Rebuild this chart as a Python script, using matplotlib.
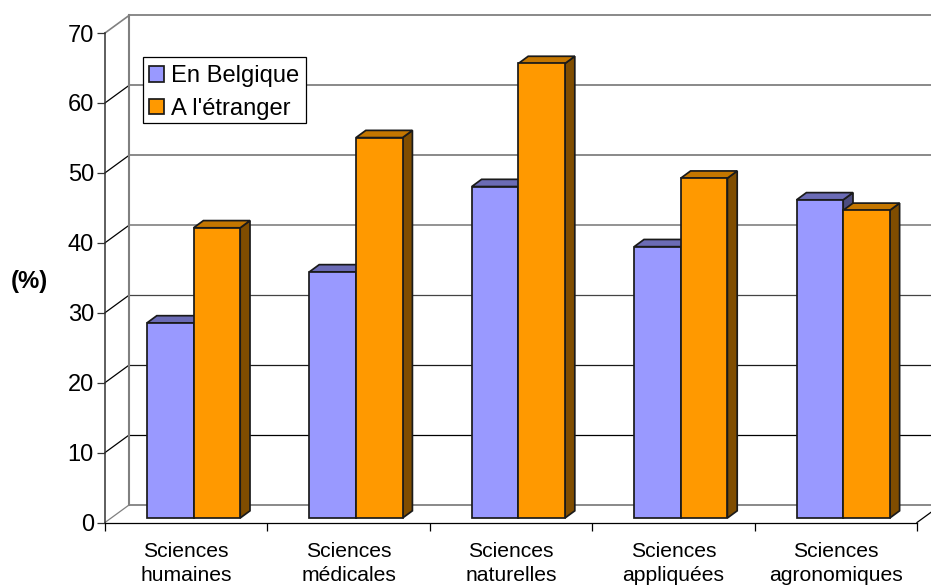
#!/usr/bin/env python3
# 3D look bar chart (Excel style), faces drawn from the values
import numpy as np
import matplotlib
matplotlib.use("Agg")
import matplotlib.pyplot as plt
from matplotlib.patches import Polygon, Patch, Rectangle

plt.rcParams['font.family'] = ['Liberation Sans', 'DejaVu Sans']

# -----------------------------------------------------------
# DATA
categories = ["Sciences\nhumaines", "Sciences\nmédicales", "Sciences\nnaturelles",
              "Sciences\nappliquées", "Sciences\nagronomiques"]
belgique = [27.9, 35.2, 47.4, 38.8, 45.5]
etranger = [41.5, 54.4, 65.0, 48.6, 44.0]
series_names = ["En Belgique", "A l'étranger"]
y_ticks = [0, 10, 20, 30, 40, 50, 60, 70]

# -----------------------------------------------------------
# GEOMETRY (pixels of the 931x585 picture)
W, H = 931, 585
x0_px, x1_px = 105, 917
y0_px, y70_px = 522.5, 33
px_x = (x1_px - x0_px) / len(categories)   # pixels per category
px_y = (y0_px - y70_px) / 70               # pixels per percent

wall_dx = 24 / px_x
wall_dy = 17.5 / px_y
bar_dx = 9.8 / px_x
bar_dy = 7.2 / px_y
bar_base = 4.5 / px_y
bar_w = 46.6 / px_x
bar_off = 42 / px_x

# colours: front, top, side
blue = ('#9999FF', '#6B6BB5', '#4D4D80')
orange = ('#FF9900', '#C47600', '#804D00')
GREY = '#808080'
DARK = '#333333'
LW = 0.9
BAR_LW = 1.25

fig = plt.figure(figsize=(W / 100, H / 100), dpi=100)
ax = fig.add_axes([x0_px / W, 1 - y0_px / H, (x1_px - x0_px) / W, (y0_px - y70_px) / H])
ax.set_xlim(0, len(categories))
ax.set_ylim(0, 70)
ax.patch.set_alpha(0)

# -------- walls and gridlines -----------------------------------
grid_style = {0: (GREY, 1.3), 10: ('black', 0.9), 20: ('#1a1a1a', 0.9), 30: ('#444444', 0.9),
              40: (GREY, 1.2), 50: (GREY, 1.3), 60: (GREY, 1.3), 70: (GREY, 1.3)}
x_end = len(categories) + wall_dx
for v in y_ticks:
    c, w = grid_style[v]
    ax.plot([wall_dx, x_end], [v + wall_dy, v + wall_dy], color=c, lw=w, clip_on=False, zorder=1)
    if v == 70:
        ax.plot([0, wall_dx], [v, v + wall_dy], color=GREY, lw=1.2, clip_on=False, zorder=1)
    elif v > 0:
        ax.plot([0, wall_dx], [v, v + wall_dy], color='black', lw=LW, clip_on=False, zorder=1)
ax.plot([wall_dx, wall_dx], [wall_dy, 70 + wall_dy], color=GREY, lw=1.5, clip_on=False, zorder=1)
ax.plot([0, wall_dx], [0, wall_dy], color=GREY, lw=LW, clip_on=False, zorder=1)
ax.plot([len(categories), x_end], [0, wall_dy], color='black', lw=LW, clip_on=False, zorder=1)

# -------- bars --------------------------------------------------
z = 3
for i in range(len(categories)):
    for j, (vals, cols) in enumerate([(belgique, blue), (etranger, orange)]):
        left = i + bar_off + j * bar_w
        right = left + bar_w
        top = bar_base + vals[i]
        ax.add_patch(Polygon([(right, bar_base), (right + bar_dx, bar_base + bar_dy),
                              (right + bar_dx, top + bar_dy), (right, top)],
                             fc=cols[2], ec='#1a1a1a', lw=BAR_LW, zorder=z, clip_on=False))
        ax.add_patch(Polygon([(left, top), (right, top), (right + bar_dx, top + bar_dy),
                              (left + bar_dx, top + bar_dy)],
                             fc=cols[1], ec='#1a1a1a', lw=BAR_LW, zorder=z, clip_on=False))
        ax.bar(left, vals[i], bar_w, bottom=bar_base, align='edge', color=cols[0],
               edgecolor='#1a1a1a', linewidth=BAR_LW, zorder=z, clip_on=False)
        z += 1

# -------- axes --------------------------------------------------
for s in ('top', 'right'):
    ax.spines[s].set_visible(False)
ax.spines['left'].set_linewidth(1.1)
ax.spines['left'].set_color(DARK)
ax.spines['bottom'].set_linewidth(LW)
ax.spines['left'].set_zorder(2)
ax.spines['bottom'].set_zorder(2)

ax.set_yticks(y_ticks)
ax.tick_params(axis='y', length=6, width=LW, color=DARK, labelsize=17, pad=2)
ax.set_xticks(np.arange(len(categories) + 1))
ax.set_xticklabels([])
ax.tick_params(axis='x', which='major', length=6, width=LW)
ax.set_xticks(np.arange(len(categories)) + 0.5, minor=True)
ax.set_xticklabels(categories, minor=True, fontsize=15.2, linespacing=1.33)
ax.tick_params(axis='x', which='minor', length=0, pad=14)

ax.text(29.5 / W, 1 - 281 / H, "(%)", transform=fig.transFigure, fontsize=17.2,
        fontweight='bold', ha='center', va='center')

# -------- legend ------------------------------------------------
# frame drawn apart so its height can be set independently of the text spacing
ax.add_patch(Rectangle((143 / W, 1 - 123 / H), 163 / W, 66 / H, transform=fig.transFigure,
                       fc='white', ec='black', lw=LW, zorder=49, clip_on=False))
handles = [Patch(fc=blue[0], ec='#1a1a1a', lw=BAR_LW), Patch(fc=orange[0], ec='#1a1a1a', lw=BAR_LW)]
leg = ax.legend(handles, series_names, loc='upper left',
                bbox_to_anchor=(143 / W, 1 - 59 / H), bbox_transform=fig.transFigure,
                fontsize=17.1, frameon=False,
                borderaxespad=0, borderpad=0.26, handlelength=0.62, handleheight=0.62,
                handletextpad=0.3, labelspacing=0.45)
leg.set_zorder(50)

fig.savefig("out.png", dpi=100)
